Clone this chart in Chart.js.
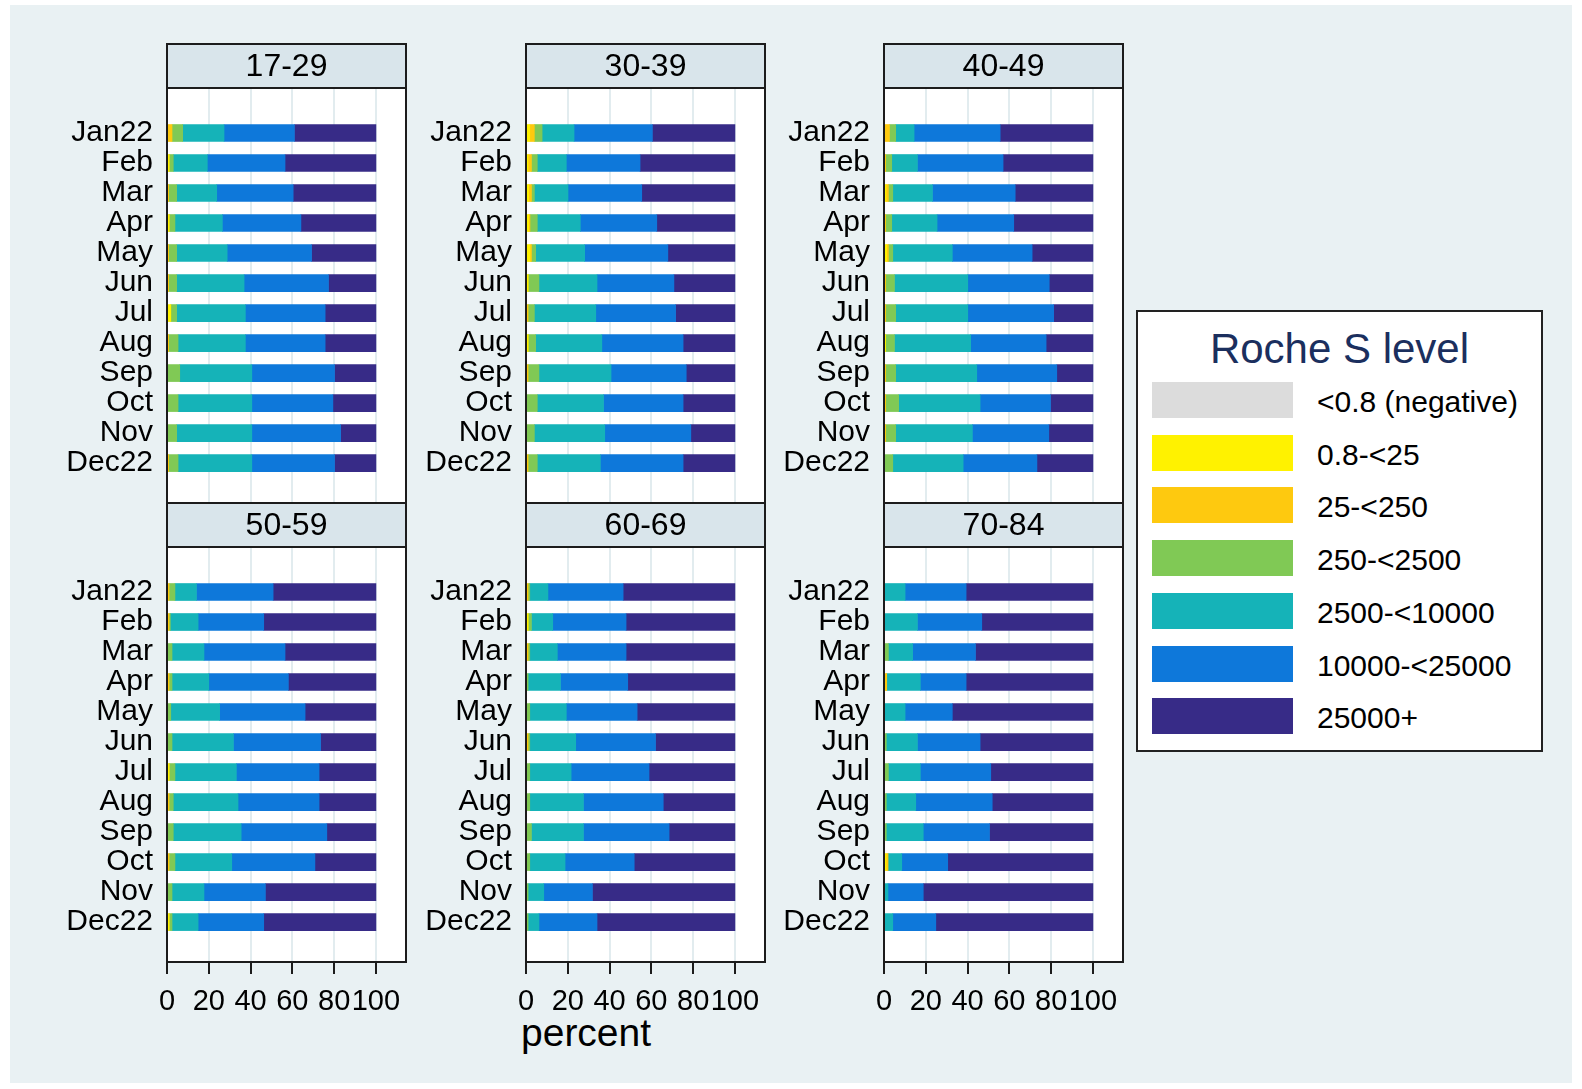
<!DOCTYPE html>
<html>
<head>
<meta charset="utf-8">
<title>Roche S level by age group</title>
<script src="https://cdn.jsdelivr.net/npm/chart.js@4.4.0/dist/chart.umd.min.js"></script>
<style>
  html, body { margin: 0; padding: 0; background: #ffffff; }
  body { position: relative; width: 1582px; height: 1089px; overflow: hidden;
         font-family: "Liberation Sans", Arial, sans-serif; }
  #bg { position: absolute; left: 10px; top: 5px; width: 1562px; height: 1078px; background: #e9f1f3; }
  canvas { position: absolute; }
  #xtitle { position: absolute; left: 521px; top: 1010px; font-size: 39px; line-height: 46px; color: #000; }
  #legend { position: absolute; left: 1136px; top: 310px; width: 407px; height: 442px;
            box-sizing: border-box; border: 2px solid #222; background: #fff; }
  #legend .title { position: absolute; left: 0; right: 0; top: 12px; text-align: center;
                   font-size: 42px; line-height: 50px; color: #1b2f5e; }
  #legend .sw { position: absolute; left: 14px; width: 141px; height: 36px; }
  #legend .lbl { position: absolute; left: 179px; font-size: 30px; line-height: 36px; color: #000; white-space: nowrap; }
</style>
</head>
<body>
<div id="bg"></div>
<div id="xtitle">percent</div>
<div id="legend"><div class="title">Roche S level</div></div>

<script>
// ---- data -------------------------------------------------------------
const months = ["Jan22", "Feb", "Mar", "Apr", "May", "Jun", "Jul", "Aug", "Sep", "Oct", "Nov", "Dec22"];
const xTicks = [0, 20, 40, 60, 80, 100];
const levels = ["<0.8 (negative)", "0.8-<25", "25-<250", "250-<2500", "2500-<10000", "10000-<25000", "25000+"];
const levelColors = ["#dcdcdc", "#fff200", "#fec90f", "#80c955", "#15b3b8", "#0e78da", "#372b87"];
const ageGroups = ["17-29", "30-39", "40-49", "50-59", "60-69", "70-84"];

// one row per month, percent in each level (same order as `levels`)
const share17_29 = [
  [0, 0, 2.4, 5.1, 19.8, 33.7, 39.0],
  [0, 1.0, 0, 2.0, 16.3, 37.2, 43.5],
  [0, 0, 0.8, 3.8, 19.2, 36.6, 39.6],
  [0, 1.0, 0, 2.8, 22.7, 37.6, 35.9],
  [0, 0, 0.8, 3.8, 24.2, 40.4, 30.8],
  [0, 0, 0.8, 3.8, 32.3, 40.4, 22.7],
  [0, 1.8, 0, 2.8, 32.9, 38.2, 24.3],
  [0, 0, 0.8, 4.5, 32.2, 38.2, 24.3],
  [0, 0, 0, 6.1, 34.5, 39.6, 19.8],
  [0, 0, 0, 5.3, 35.3, 38.8, 20.6],
  [0, 0, 0, 4.6, 36.0, 42.5, 16.9],
  [0, 0, 0.8, 4.5, 35.3, 39.6, 19.8],
];
const share30_39 = [
  [0, 1.8, 2.2, 3.7, 15.3, 37.5, 39.5],
  [0, 1.0, 1.6, 2.8, 13.9, 35.3, 45.4],
  [0, 1.3, 1.3, 1.4, 16.1, 35.3, 44.6],
  [0, 1.3, 0.6, 3.5, 20.6, 36.6, 37.4],
  [0, 1.9, 0.7, 2.0, 23.5, 39.8, 32.1],
  [0, 1.0, 0, 5.2, 27.8, 36.8, 29.2],
  [0, 0, 1.0, 3.0, 29.4, 38.2, 28.4],
  [0, 1.0, 0, 3.6, 31.7, 38.9, 24.8],
  [0, 0, 1.0, 5.2, 34.5, 36.0, 23.3],
  [0, 0, 0, 5.4, 31.7, 38.1, 24.8],
  [0, 0, 0, 4.0, 33.7, 41.2, 21.1],
  [0, 0, 1.0, 4.4, 30.2, 39.6, 24.8],
];
const share40_49 = [
  [0, 0, 2.6, 3.0, 8.8, 41.2, 44.4],
  [0, 0, 0.8, 2.9, 12.3, 41.0, 43.0],
  [0, 1.0, 1.1, 2.1, 19.0, 39.6, 37.2],
  [0, 0, 0.8, 2.9, 21.7, 36.7, 37.9],
  [0, 1.3, 0.8, 2.1, 28.5, 38.2, 29.1],
  [0, 0, 0.8, 4.2, 35.1, 39.0, 20.9],
  [0, 0, 0.8, 4.8, 34.5, 41.1, 18.8],
  [0, 0.8, 0, 4.2, 36.5, 36.1, 22.4],
  [0, 0, 0.8, 4.8, 38.8, 38.3, 17.3],
  [0, 0, 0.8, 6.2, 39.0, 33.7, 20.3],
  [0, 0, 0.8, 4.8, 36.7, 36.6, 21.1],
  [0, 0, 0, 4.2, 33.7, 35.3, 26.8],
];
const share50_59 = [
  [0, 0, 1.0, 2.8, 10.3, 36.7, 49.2],
  [0, 0, 1.0, 0.6, 13.3, 31.4, 53.7],
  [0, 0, 0, 2.4, 15.3, 38.8, 43.5],
  [0, 0, 1.0, 1.4, 17.6, 38.1, 41.9],
  [0, 0, 0, 1.8, 23.4, 40.9, 33.9],
  [0, 0, 0, 2.4, 29.4, 41.7, 26.5],
  [0, 1.0, 0, 2.8, 29.4, 39.6, 27.2],
  [0, 0, 1.0, 2.0, 31.0, 38.8, 27.2],
  [0, 0, 0, 3.0, 32.5, 41.0, 23.5],
  [0, 0, 1.0, 2.8, 27.2, 39.8, 29.2],
  [0, 0, 0, 2.4, 15.3, 29.4, 52.9],
  [0, 1.0, 0, 1.4, 12.5, 31.4, 53.7],
];
const share60_69 = [
  [0, 0, 1.0, 0.8, 8.7, 36.0, 53.5],
  [0, 1.0, 0, 1.6, 10.2, 35.1, 52.1],
  [0, 0, 1.0, 0.8, 13.2, 32.9, 52.1],
  [0, 0, 0, 1.0, 15.5, 32.2, 51.3],
  [0, 0, 0, 1.8, 17.5, 33.9, 46.8],
  [0, 0, 1.0, 0.8, 22.0, 38.2, 38.0],
  [0, 0, 0, 1.8, 19.8, 37.3, 41.1],
  [0, 0, 0, 1.8, 25.7, 38.2, 34.3],
  [0, 0, 0, 2.6, 24.9, 41.0, 31.5],
  [0, 0, 0, 1.8, 16.9, 33.1, 48.2],
  [0, 0, 0, 1.0, 7.5, 23.3, 68.2],
  [0, 0, 0, 1.0, 5.2, 27.8, 66.0],
];
const share70_84 = [
  [0, 0, 0, 0, 10.1, 29.2, 60.7],
  [0, 0, 0, 0, 16.0, 30.8, 53.2],
  [0, 0, 0, 2.1, 11.6, 30.1, 56.2],
  [0, 0, 1.3, 0, 16.1, 21.9, 60.7],
  [0, 0, 0, 0, 10.1, 22.6, 67.3],
  [0, 0, 0, 1.1, 14.9, 30.0, 54.0],
  [0, 0, 0, 2.1, 15.3, 33.7, 48.9],
  [0, 0, 0, 1.1, 14.1, 36.6, 48.2],
  [0, 0, 0, 1.1, 17.7, 31.7, 49.5],
  [0, 1.0, 0.9, 0, 6.6, 22.0, 69.5],
  [0, 0, 0, 0, 1.9, 16.9, 81.2],
  [0, 0, 0, 0, 4.2, 20.6, 75.2],
];
const panelShares = [share17_29, share30_39, share40_49, share50_59, share60_69, share70_84];

// ---- layout ---------------------------------------------------------------
const FONT = '"Liberation Sans", Arial, sans-serif';
const frameLefts = [167, 526, 884];
const headerTops = [44, 503];
const FRAME_W = 239;
const HEADER_H = 44;
const PLOT_H = 415;
const LABEL_W = 120;
const AXIS_H = 64;
const X_RANGE = [0, 114.4];
const Y_RANGE = [-1.5, 12.33];

Chart.defaults.font.family = FONT;
Chart.defaults.animation = false;

// white plot region, then header strip with the age group + black frame
const panelFrame = {
  id: "panelFrame",
  beforeDraw(chart) {
    const { ctx, chartArea: a } = chart;
    ctx.save();
    ctx.fillStyle = "#ffffff";
    ctx.fillRect(a.left, a.top, a.right - a.left, a.bottom - a.top);
    ctx.restore();
  },
  afterDraw(chart, args, opts) {
    const { ctx, chartArea: a } = chart;
    const w = a.right - a.left;
    const top = a.top - HEADER_H;
    ctx.save();
    ctx.fillStyle = "#d9e5eb";
    ctx.fillRect(a.left, top, w, HEADER_H);
    ctx.strokeStyle = "#1c1c1c";
    ctx.lineWidth = 2;
    ctx.strokeRect(a.left, top, w, HEADER_H);
    ctx.strokeRect(a.left, a.top, w, a.bottom - a.top);
    ctx.fillStyle = "#000";
    ctx.font = "32px " + FONT;
    ctx.textAlign = "center";
    ctx.textBaseline = "middle";
    ctx.fillText(opts.title, a.left + w / 2, top + HEADER_H / 2 + 1);
    ctx.restore();
  },
};

function buildDatasets(rows) {
  return levels.map((lvl, k) => ({
    label: lvl,
    stack: "all",
    data: rows.map((r, i) => ({ x: r[k], y: i })),
    backgroundColor: levelColors[k],
    borderWidth: 0,
    barThickness: 17,
  }));
}

function makePanel(idx) {
  const col = idx % 3;
  const row = Math.floor(idx / 3);
  const showX = row === 1;

  const canvas = document.createElement("canvas");
  const top = headerTops[row] - 4;
  const width = LABEL_W + FRAME_W + 6;
  const height = 4 + HEADER_H + PLOT_H + (showX ? AXIS_H : 1);
  canvas.width = width;
  canvas.height = height;
  canvas.style.left = (frameLefts[col] - LABEL_W) + "px";
  canvas.style.top = top + "px";
  canvas.style.width = width + "px";
  canvas.style.height = height + "px";
  document.body.appendChild(canvas);

  return new Chart(canvas, {
    type: "bar",
    data: { datasets: buildDatasets(panelShares[idx]) },
    options: {
      indexAxis: "y",
      responsive: false,
      devicePixelRatio: 1,
      layout: { padding: { top: 4 + HEADER_H, right: 6, bottom: 0, left: 0 } },
      plugins: {
        legend: { display: false },
        tooltip: { enabled: false },
        panelFrame: { title: ageGroups[idx] },
      },
      scales: {
        x: {
          type: "linear",
          bounds: "data",
          min: X_RANGE[0],
          max: X_RANGE[1],
          stacked: true,
          afterBuildTicks: (s) => { s.ticks = xTicks.map((v) => ({ value: v })); },
          afterFit: (s) => {
            s.height = showX ? AXIS_H : 1;
            s.paddingLeft = 0;
            s.paddingRight = 0;
          },
          grid: {
            color: "#e2ecef",
            lineWidth: 2,
            drawTicks: showX,
            tickLength: 12,
            tickColor: "#1c1c1c",
            tickWidth: 2,
          },
          border: { display: false },
          ticks: {
            display: showX,
            autoSkip: false,
            maxRotation: 0,
            padding: 11,
            color: "#000",
            font: { size: 29 },
          },
        },
        y: {
          type: "linear",
          bounds: "data",
          offset: false,
          reverse: true,
          min: Y_RANGE[0],
          max: Y_RANGE[1],
          afterBuildTicks: (s) => { s.ticks = months.map((m, i) => ({ value: i })); },
          afterFit: (s) => {
            s.width = LABEL_W;
            s.paddingTop = 0;
            s.paddingBottom = 0;
          },
          grid: { display: false, drawTicks: false, offset: false },
          border: { display: false },
          ticks: {
            autoSkip: false,
            padding: 14,
            color: "#000",
            font: { size: 30 },
            callback: (v) => months[v],
          },
        },
      },
    },
    plugins: [panelFrame],
  });
}

// legend box
function renderLegend() {
  const box = document.getElementById("legend");
  levels.forEach((lvl, k) => {
    const y = 70 + k * 52.7;
    const sw = document.createElement("div");
    sw.className = "sw";
    sw.style.top = y + "px";
    sw.style.background = levelColors[k];
    box.appendChild(sw);
    const lb = document.createElement("div");
    lb.className = "lbl";
    lb.style.top = (y + 2) + "px";
    lb.textContent = lvl;
    box.appendChild(lb);
  });
}

renderLegend();
ageGroups.forEach((g, i) => makePanel(i));
</script>
</body>
</html>
